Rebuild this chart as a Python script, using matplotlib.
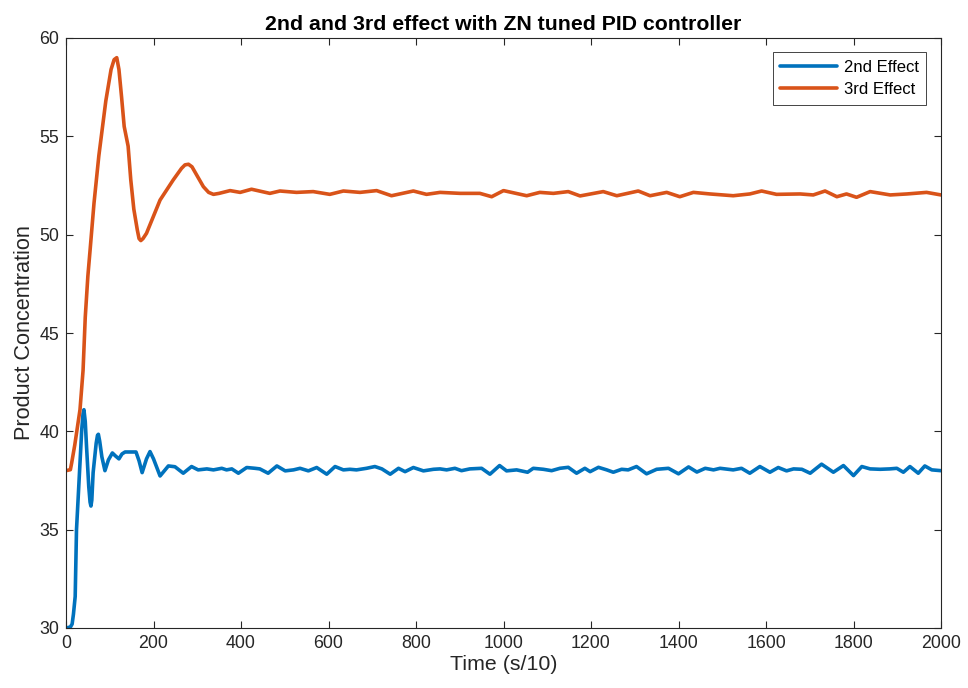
import matplotlib
matplotlib.use("Agg")
import matplotlib.pyplot as plt

# ---- data ----
t_2nd = [0, 10, 14, 17, 21, 24, 30, 36, 39, 41, 44, 47, 52, 55, 57, 59, 62, 69, 72, 74,
         77, 82, 89, 97, 106, 113, 121, 128,
         135, 160, 167, 174, 184, 192, 200, 215, 234, 249, 268, 287, 302, 322, 337, 356, 367, 379, 394,
         413, 432, 443, 462, 482, 501, 520, 535, 554, 573, 596, 615, 634, 649, 664, 687,
         706, 722, 741, 760, 775, 794, 817, 840, 855, 870, 889, 904, 923, 950, 969, 991,
         1007, 1030, 1055, 1068, 1091, 1110, 1129, 1148, 1167, 1186, 1198, 1217, 1236,
         1251, 1270, 1285, 1304, 1327, 1350, 1377, 1400, 1423, 1442, 1461, 1480, 1495,
         1525, 1544, 1563, 1586, 1609, 1628, 1647, 1663, 1682, 1701, 1727, 1754, 1777,
         1800, 1819, 1838, 1861, 1883, 1899, 1914, 1929, 1948, 1963, 1979, 2000]
y_2nd = [30.0, 30.05, 30.2, 30.7, 31.6, 35.0, 37.5, 40.1, 40.9, 41.1, 40.5, 39.2, 37.2,
         36.4, 36.2, 36.5, 37.9, 39.4, 39.8,
         39.85, 39.5, 38.7, 38.0, 38.55, 38.9, 38.75, 38.6, 38.85, 38.95, 38.95, 38.5,
         37.9, 38.6, 38.97, 38.6, 37.73, 38.24,
         38.2, 37.87, 38.21, 38.04, 38.09, 38.04, 38.12, 38.04, 38.09, 37.87, 38.16,
         38.12, 38.09, 37.87, 38.24, 37.99, 38.04, 38.12, 37.99, 38.16, 37.82, 38.21,
         38.04, 38.07, 38.04, 38.12, 38.21, 38.09, 37.82, 38.12, 37.95, 38.16, 37.99,
         38.07, 38.09, 38.04, 38.12, 38.00, 38.09, 38.12, 37.82, 38.26, 37.99, 38.04,
         37.92, 38.12, 38.07, 38.00, 38.12, 38.17, 37.87, 38.12, 37.95, 38.17, 38.04,
         37.92, 38.07, 38.04, 38.21, 37.84, 38.07, 38.12, 37.84, 38.19, 37.93, 38.12,
         38.04, 38.12, 38.04, 38.12, 37.87, 38.21, 37.92, 38.16, 37.99, 38.09, 38.07,
         37.87, 38.33, 37.92, 38.26, 37.75, 38.21, 38.09, 38.07, 38.09, 38.12, 37.92,
         38.21, 37.87, 38.24, 38.04, 38.00]

t_3rd = [0, 10, 13, 20, 26, 32, 39, 44, 50, 55, 64, 75, 91, 103, 110, 116, 121, 127,
         133, 142, 148, 155, 163, 167, 171, 176, 184, 215, 245, 264, 272, 280, 288, 297,
         314, 326, 337, 350, 375, 398, 424, 466, 489, 527,
         565, 603, 634, 672, 710, 744, 794, 824, 855, 901, 946, 973, 1000, 1053, 1083,
         1114, 1148, 1175, 1228, 1259, 1308, 1335, 1373, 1403, 1434, 1472, 1525, 1563,
         1590, 1624, 1678, 1708, 1735, 1762, 1784, 1807, 1838, 1884, 1922, 1967, 2000]
y_3rd = [38.0, 38.05, 38.4, 39.3, 40.2, 41.1, 43.1, 45.8, 47.9, 49.2, 51.6, 54.0, 56.8,
         58.4, 58.9, 59.0, 58.4, 57.0, 55.5, 54.5, 52.8, 51.3, 50.24, 49.8, 49.7, 49.8,
         50.07, 51.76, 52.78, 53.37, 53.55, 53.58, 53.45, 53.1, 52.44, 52.15, 52.05, 52.1,
         52.24, 52.15, 52.31, 52.10, 52.22, 52.15, 52.19,
         52.05, 52.22, 52.15, 52.24, 51.98, 52.22, 52.05, 52.15, 52.10, 52.10, 51.93,
         52.24, 51.98, 52.15, 52.10, 52.19, 51.97, 52.19, 51.98, 52.22, 51.98, 52.15,
         51.93, 52.15, 52.07, 51.98, 52.07, 52.22, 52.05, 52.07, 52.02, 52.22, 51.93,
         52.07, 51.90, 52.19, 52.02, 52.07, 52.15, 52.02]

x_ticks = [0, 200, 400, 600, 800, 1000, 1200, 1400, 1600, 1800, 2000]
y_ticks = [30, 35, 40, 45, 50, 55, 60]
series_names = ["2nd Effect", "3rd Effect"]
title_text = "2nd and 3rd effect with ZN tuned PID controller"
xlabel_text = "Time (s/10)"
ylabel_text = "Product Concentration"

plt.rcParams['font.family'] = ['Liberation Sans', 'DejaVu Sans']

fig = plt.figure(figsize=(9.68, 6.88), dpi=100)
ax = fig.add_axes([66/968, 1-628/688, (941-66)/968, (628-38)/688])

ax.plot(t_2nd, y_2nd, color='#0072BD', lw=2.6, label=series_names[0],
        solid_joinstyle='round', solid_capstyle='round')
ax.plot(t_3rd, y_3rd, color='#D95319', lw=2.6, label=series_names[1],
        solid_joinstyle='round', solid_capstyle='round')

ax.set_xlim(0, 2000)
ax.set_ylim(30, 60)
ax.set_xticks(x_ticks)
ax.set_yticks(y_ticks)
ax.tick_params(direction='in', length=5, width=0.8, top=True, right=True,
               labelsize=12.8, colors='#262626', pad=5)
for s in ax.spines.values():
    s.set_color('#262626')
    s.set_linewidth(0.8)

ax.set_title(title_text, fontsize=15.3, fontweight='bold', pad=6, color='black')
ax.set_xlabel(xlabel_text, fontsize=15.4, color='#262626', labelpad=2)
ax.set_ylabel(ylabel_text, fontsize=15.6, color='#262626', labelpad=3)

leg = ax.legend(loc='upper right', bbox_to_anchor=(0.983, 0.976), fontsize=12,
                fancybox=False, framealpha=1, edgecolor='#262626', handlelength=3.4,
                borderpad=0.45, labelspacing=0.45, handletextpad=0.4, borderaxespad=0)
leg.get_frame().set_linewidth(0.6)

fig.savefig('out.png', dpi=100)
